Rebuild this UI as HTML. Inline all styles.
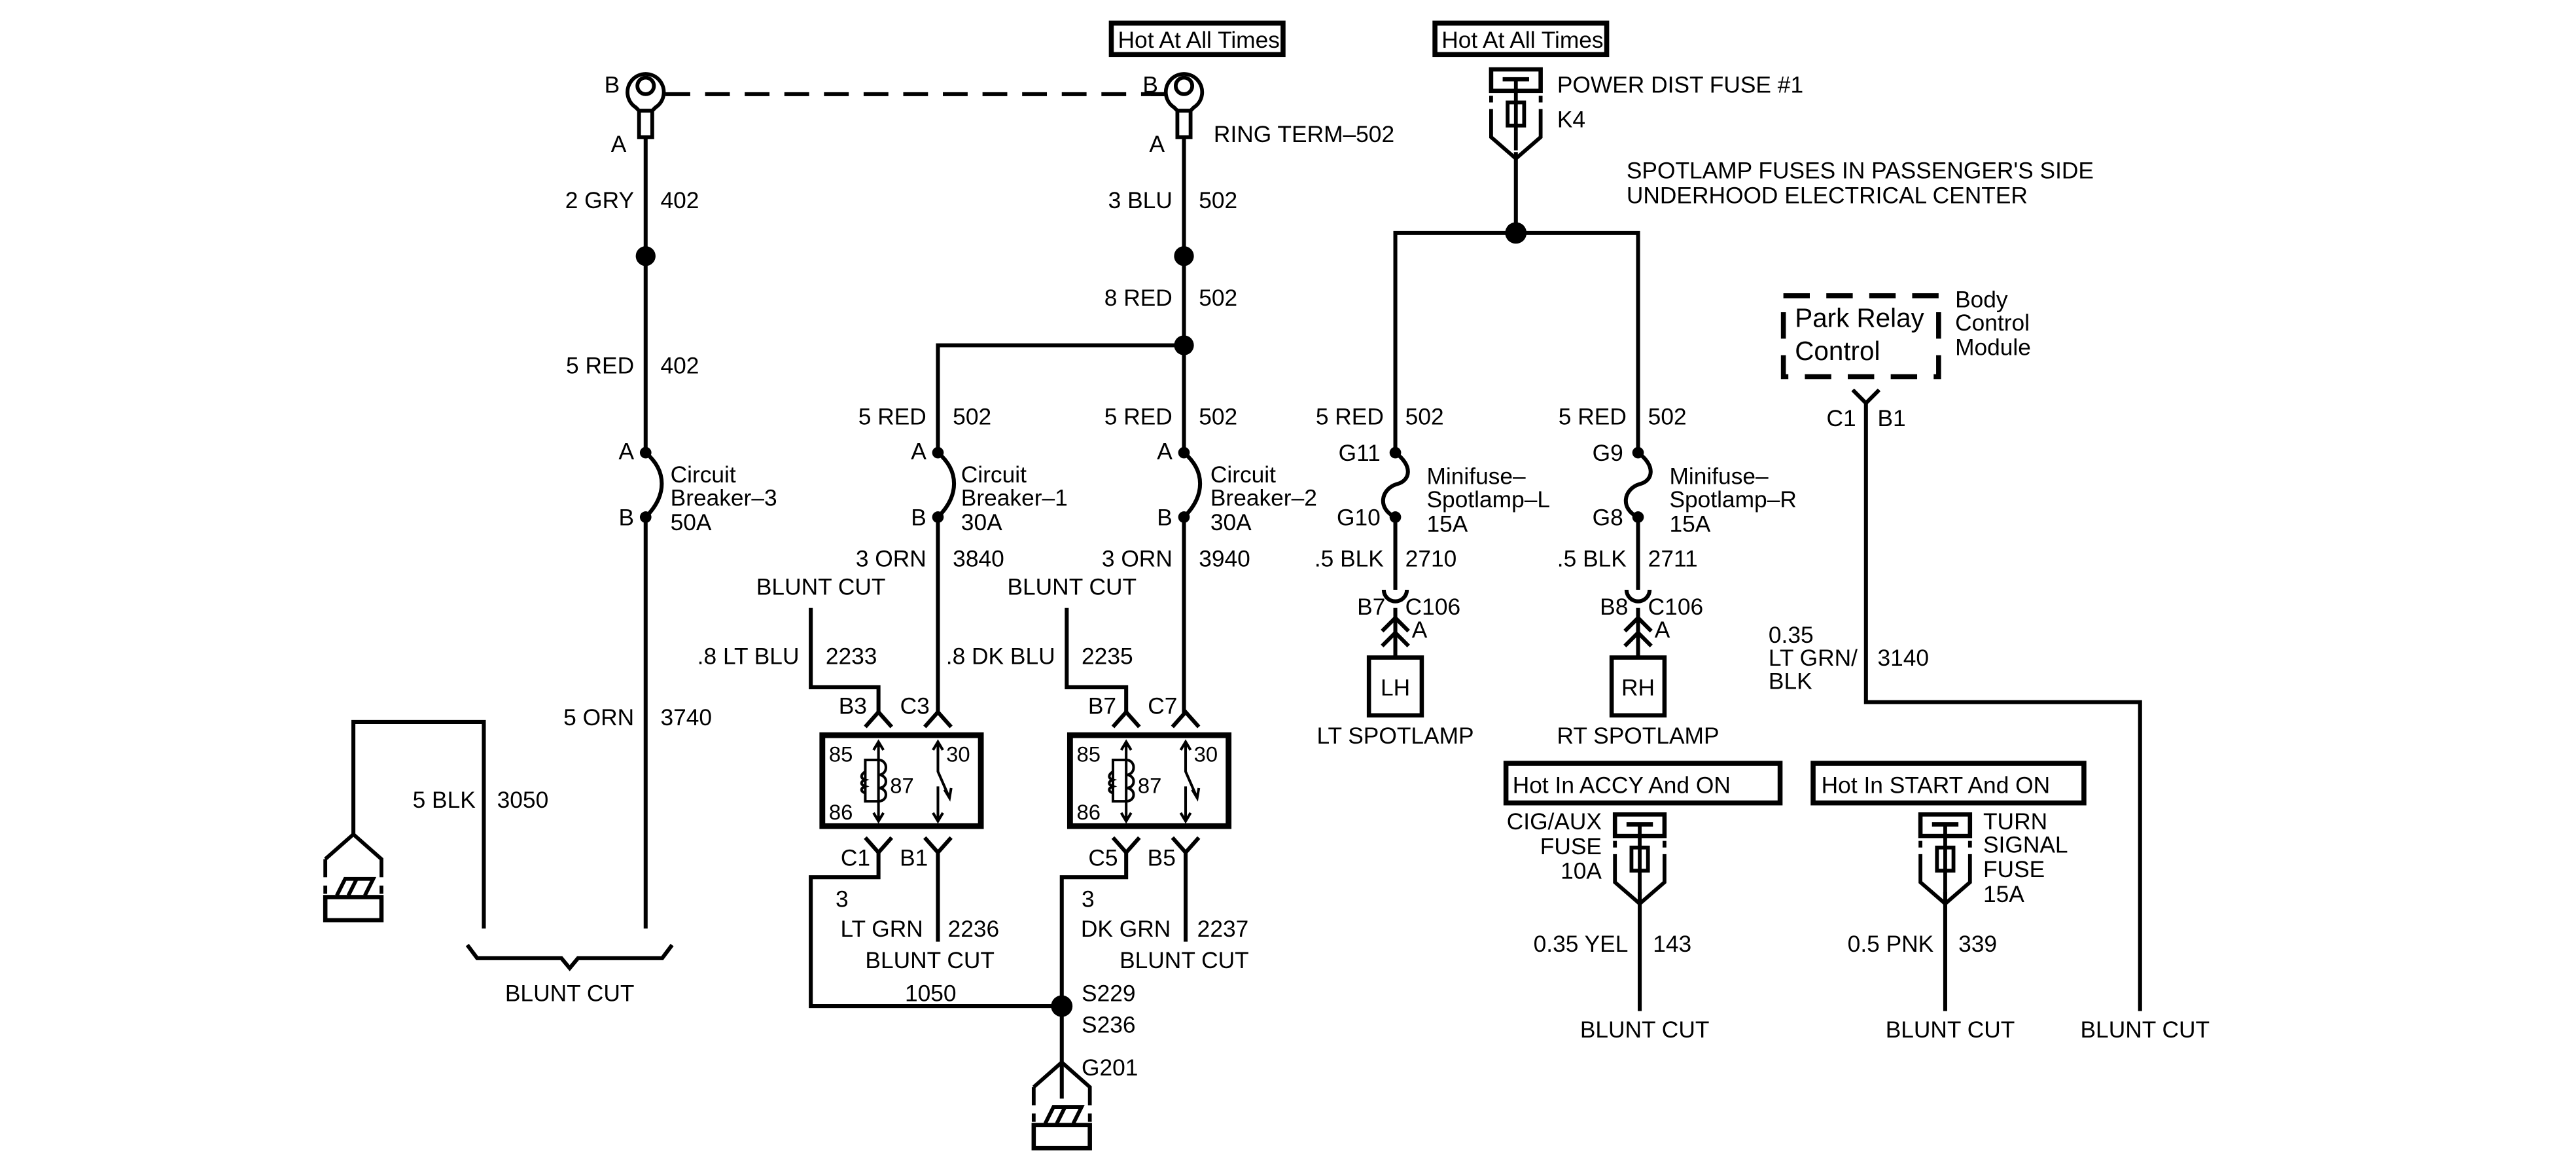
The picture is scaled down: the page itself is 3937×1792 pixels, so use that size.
<!DOCTYPE html>
<html><head><meta charset="utf-8"><style>
html,body{margin:0;padding:0;background:#fff;}
svg{display:block;}
text{font-family:"Liberation Sans",Arial,sans-serif;font-size:14px;fill:#000;}
.r{text-anchor:end;}
.m{text-anchor:middle;}
</style></head><body>
<svg width="3937" height="1792" viewBox="0 0 1560 710" preserveAspectRatio="none" xmlns="http://www.w3.org/2000/svg">
<defs>
<g id="ring">
 <path d="M-6,13 A11,11 0 1 1 6,13 L4,15 L-4,15 Z" fill="none" stroke="#000" stroke-width="2.3"/>
 <circle cx="0" cy="0" r="5" fill="none" stroke="#000" stroke-width="2.3"/>
 <rect x="-4" y="15" width="8" height="16" fill="none" stroke="#000" stroke-width="2.3"/>
</g>
<g id="fuse">
 <rect x="-15" y="0" width="30" height="13" fill="none" stroke="#000" stroke-width="2.6"/>
 <line x1="-8" y1="6" x2="8" y2="6" stroke="#000" stroke-width="2.6"/>
 <line x1="0" y1="6" x2="0" y2="49" stroke="#000" stroke-width="2.3"/>
 <rect x="-5" y="20" width="10" height="14" fill="none" stroke="#000" stroke-width="2.3"/>
 <path d="M-15,16 V20 M-15,24 V41 L0,54 L15,41 V24 M15,16 V20" fill="none" stroke="#000" stroke-width="2.3"/>
</g>
<g id="gnd">
 <path d="M-17,15 L0,0 L17,15 V26 M17,31 V36 M-17,15 V26 M-17,31 V36" fill="none" stroke="#000" stroke-width="2.3"/>
 <rect x="-17" y="38" width="34" height="14" fill="none" stroke="#000" stroke-width="2.6"/>
 <path d="M-10,37 L-5,27 H12 L7,37 M-3,37 L2,27" fill="none" stroke="#000" stroke-width="2.3"/>
</g>
<g id="relay">
 <rect x="0" y="0" width="96" height="55" fill="none" stroke="#000" stroke-width="3.5"/>
 <text x="4" y="16" style="font-size:13px">85</text>
 <text x="4" y="51" style="font-size:13px">86</text>
 <text x="41" y="35" style="font-size:13px">87</text>
 <text x="75" y="16" style="font-size:13px">30</text>
 <path d="M34,4 V52 M31,9 L34,4 L37,9 M31,47 L34,52 L37,47" fill="none" stroke="#000" stroke-width="1.6"/>
 <path d="M34,15 H26 V40 H34 M34,15 C40,15 40,24 34,24 C40,24 40,32 34,32 C40,32 40,40 34,40 M26,22 C23,24 23,26 26,27 C23,28 23,30 26,31 C23,32 23,34 26,35" fill="none" stroke="#000" stroke-width="1.6"/>
 <path d="M70,4 V22 L77,38 M67,9 L70,4 L73,9 M74,33 L77,38 L78,32 M70,31 V52 M67,47 L70,52 L73,47" fill="none" stroke="#000" stroke-width="1.6"/>
</g>
</defs>
<g stroke="#000" stroke-width="2.4" fill="none">
 <line x1="391" y1="82" x2="391" y2="274"/>
 <path d="M391,274 C404,285 404,300 391,313"/>
 <line x1="391" y1="313" x2="391" y2="562"/>
 <line x1="403" y1="57" x2="705" y2="57" stroke-dasharray="15,9"/>
 <line x1="717" y1="82" x2="717" y2="274"/>
 <path d="M717,274 C730,285 730,300 717,313"/>
 <line x1="717" y1="313" x2="717" y2="432"/>
 <path d="M568,274 V209 H717"/>
 <path d="M568,274 C581,285 581,300 568,313"/>
 <line x1="568" y1="313" x2="568" y2="432"/>
 <path d="M491,368 V416 H532 V432"/>
 <path d="M646,368 V416 H682 V432"/>
 <path d="M524,440 L532,431 L540,440 M560,440 L568,431 L576,440 M674,440 L682,431 L690,440 M710,440 L718,431 L726,440"/>
 <path d="M524,507 L532,516 L540,507 M560,507 L568,516 L576,507 M674,507 L682,516 L690,507 M710,507 L718,516 L726,507"/>
 <path d="M532,516 V531 H491 V609 H643"/>
 <line x1="568" y1="516" x2="568" y2="570"/>
 <path d="M682,516 V531 H643 V665"/>
 <line x1="718" y1="516" x2="718" y2="570"/>
 <path d="M214,505 V437 H293 V562"/>
 <path d="M283,572 L289,580 H340 L345,586 L350,580 H401 L407,572"/>
 <line x1="918" y1="92" x2="918" y2="141"/>
 <path d="M845,274 V141 H992 V274"/>
 <path d="M845,274 C856,282 854,291 846,293 C836,296 834,308 845,313"/>
 <path d="M992,274 C1003,282 1001,291 993,293 C983,296 981,308 992,313"/>
 <path d="M845,313 V357 M845,368 V398 M992,313 V357 M992,368 V398"/>
 <path d="M838,357 A7,7 0 0 0 852,357 M985,357 A7,7 0 0 0 999,357"/>
 <path d="M837,382 L845,374 L853,382 M837,391 L845,383 L853,391 M984,382 L992,374 L1000,382 M984,391 L992,383 L1000,391"/>
 <line x1="993" y1="540" x2="993" y2="612"/>
 <line x1="1178" y1="540" x2="1178" y2="612"/>
 <path d="M1122,236 L1130,244 L1138,236"/>
 <path d="M1130,244 V425 H1296 V612"/>
</g>
<g fill="#000">
 <circle cx="391" cy="155" r="6"/><circle cx="717" cy="155" r="6"/><circle cx="717" cy="209" r="6"/>
 <circle cx="918" cy="141" r="6.5"/><circle cx="643" cy="609" r="6.5"/>
 <circle cx="391" cy="274" r="3.5"/><circle cx="391" cy="313" r="3.5"/>
 <circle cx="568" cy="274" r="3.5"/><circle cx="568" cy="313" r="3.5"/>
 <circle cx="717" cy="274" r="3.5"/><circle cx="717" cy="313" r="3.5"/>
 <circle cx="845" cy="274" r="3.5"/><circle cx="845" cy="313" r="3.5"/>
 <circle cx="992" cy="274" r="3.5"/><circle cx="992" cy="313" r="3.5"/>
</g>
<use href="#ring" x="391" y="52"/>
<use href="#ring" x="717" y="52"/>
<line x1="697" y1="57" x2="707" y2="57" stroke="#000" stroke-width="2.4"/>
<use href="#fuse" x="918" y="42"/>
<use href="#fuse" x="993" y="493"/>
<use href="#fuse" x="1178" y="493"/>
<use href="#gnd" x="214" y="505"/>
<use href="#gnd" x="643" y="643"/>
<use href="#relay" x="498" y="445"/>
<use href="#relay" x="648" y="445"/>
<g fill="none" stroke="#000">
 <rect x="673" y="14" width="104" height="19" stroke-width="3"/>
 <rect x="869" y="14" width="104" height="19" stroke-width="3"/>
 <rect x="912" y="462" width="166" height="24" stroke-width="3"/>
 <rect x="1098" y="462" width="164" height="24" stroke-width="3"/>
 <rect x="1080" y="179" width="94" height="49" stroke-width="3" stroke-dasharray="16,10"/>
 <rect x="829" y="398" width="32" height="35" stroke-width="2.6"/>
 <rect x="976" y="398" width="32" height="35" stroke-width="2.6"/>
</g>
<text x="677" y="29">Hot At All Times</text>
<text x="873" y="29">Hot At All Times</text>
<text x="916" y="480">Hot In ACCY And ON</text>
<text x="1103" y="480">Hot In START And ON</text>
<text x="366" y="56">B</text><text x="370" y="92">A</text>
<text x="692" y="56">B</text><text x="696" y="92">A</text>
<text x="735" y="86">RING TERM–502</text>
<text x="943" y="56">POWER DIST FUSE #1</text>
<text x="943" y="77">K4</text>
<text x="985" y="108">SPOTLAMP FUSES IN PASSENGER'S SIDE</text>
<text x="985" y="123">UNDERHOOD ELECTRICAL CENTER</text>
<text class="r" x="384" y="126">2 GRY</text><text x="400" y="126">402</text>
<text class="r" x="384" y="226">5 RED</text><text x="400" y="226">402</text>
<text class="r" x="384" y="278">A</text><text class="r" x="384" y="318">B</text>
<text x="406" y="292">Circuit</text><text x="406" y="306">Breaker–3</text><text x="406" y="321">50A</text>
<text class="r" x="384" y="439">5 ORN</text><text x="400" y="439">3740</text>
<text class="r" x="288" y="489">5 BLK</text><text x="301" y="489">3050</text>
<text class="m" x="345" y="606">BLUNT CUT</text>
<text class="r" x="710" y="126">3 BLU</text><text x="726" y="126">502</text>
<text class="r" x="710" y="185">8 RED</text><text x="726" y="185">502</text>
<text class="r" x="561" y="257">5 RED</text><text x="577" y="257">502</text>
<text class="r" x="710" y="257">5 RED</text><text x="726" y="257">502</text>
<text class="r" x="561" y="278">A</text><text class="r" x="561" y="318">B</text>
<text class="r" x="710" y="278">A</text><text class="r" x="710" y="318">B</text>
<text x="582" y="292">Circuit</text><text x="582" y="306">Breaker–1</text><text x="582" y="321">30A</text>
<text x="733" y="292">Circuit</text><text x="733" y="306">Breaker–2</text><text x="733" y="321">30A</text>
<text class="r" x="561" y="343">3 ORN</text><text x="577" y="343">3840</text>
<text class="r" x="710" y="343">3 ORN</text><text x="726" y="343">3940</text>
<text x="458" y="360">BLUNT CUT</text><text x="610" y="360">BLUNT CUT</text>
<text class="r" x="484" y="402">.8 LT BLU</text><text x="500" y="402">2233</text>
<text class="r" x="639" y="402">.8 DK BLU</text><text x="655" y="402">2235</text>
<text class="r" x="525" y="432">B3</text><text class="r" x="563" y="432">C3</text>
<text class="r" x="676" y="432">B7</text><text class="r" x="713" y="432">C7</text>
<text class="r" x="527" y="524">C1</text><text class="r" x="562" y="524">B1</text>
<text class="r" x="677" y="524">C5</text><text class="r" x="712" y="524">B5</text>
<text x="506" y="549">3</text><text x="655" y="549">3</text>
<text class="r" x="559" y="567">LT GRN</text><text x="574" y="567">2236</text>
<text class="r" x="709" y="567">DK GRN</text><text x="725" y="567">2237</text>
<text x="524" y="586">BLUNT CUT</text><text x="678" y="586">BLUNT CUT</text>
<text x="548" y="606">1050</text>
<text x="655" y="606">S229</text><text x="655" y="625">S236</text><text x="655" y="651">G201</text>
<text class="r" x="838" y="257">5 RED</text><text x="851" y="257">502</text>
<text class="r" x="985" y="257">5 RED</text><text x="998" y="257">502</text>
<text class="r" x="836" y="279">G11</text><text class="r" x="836" y="318">G10</text>
<text class="r" x="983" y="279">G9</text><text class="r" x="983" y="318">G8</text>
<text x="864" y="293">Minifuse–</text><text x="864" y="307">Spotlamp–L</text><text x="864" y="322">15A</text>
<text x="1011" y="293">Minifuse–</text><text x="1011" y="307">Spotlamp–R</text><text x="1011" y="322">15A</text>
<text class="r" x="838" y="343">.5 BLK</text><text x="851" y="343">2710</text>
<text class="r" x="985" y="343">.5 BLK</text><text x="998" y="343">2711</text>
<text class="r" x="839" y="372">B7</text><text x="851" y="372">C106</text><text x="855" y="386">A</text>
<text class="r" x="986" y="372">B8</text><text x="998" y="372">C106</text><text x="1002" y="386">A</text>
<text class="m" x="845" y="421">LH</text><text class="m" x="992" y="421">RH</text>
<text class="m" x="845" y="450">LT SPOTLAMP</text><text class="m" x="992" y="450">RT SPOTLAMP</text>
<text class="r" x="970" y="502">CIG/AUX</text><text class="r" x="970" y="517">FUSE</text><text class="r" x="970" y="532">10A</text>
<text x="1201" y="502">TURN</text><text x="1201" y="516">SIGNAL</text><text x="1201" y="531">FUSE</text><text x="1201" y="546">15A</text>
<text class="r" x="986" y="576">0.35 YEL</text><text x="1001" y="576">143</text>
<text class="r" x="1171" y="576">0.5 PNK</text><text x="1186" y="576">339</text>
<text class="m" x="996" y="628">BLUNT CUT</text><text class="m" x="1181" y="628">BLUNT CUT</text><text class="m" x="1299" y="628">BLUNT CUT</text>
<text x="1087" y="198" style="font-size:16px">Park Relay</text>
<text x="1087" y="218" style="font-size:16px">Control</text>
<text x="1184" y="186">Body</text><text x="1184" y="200">Control</text><text x="1184" y="215">Module</text>
<text class="r" x="1124" y="258">C1</text><text x="1137" y="258">B1</text>
<text x="1071" y="389">0.35</text><text x="1071" y="403">LT GRN/</text><text x="1071" y="417">BLK</text>
<text x="1137" y="403">3140</text>
</svg>
</body></html>
